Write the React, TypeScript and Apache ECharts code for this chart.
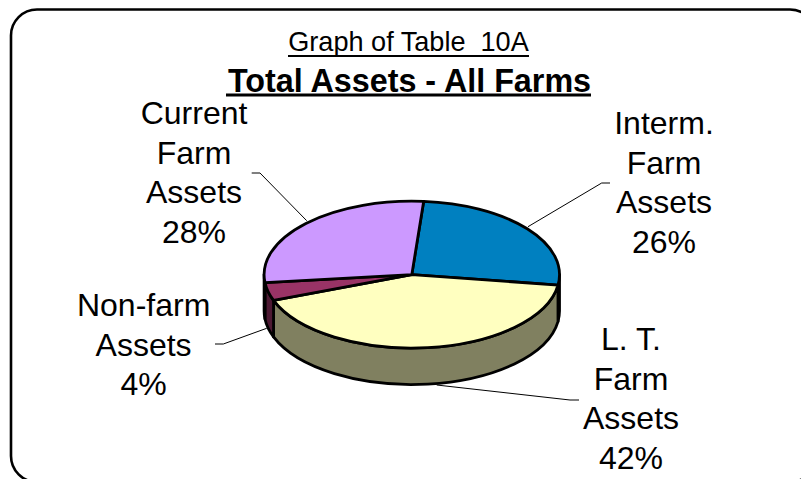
import React, { useEffect, useRef } from "react";
import * as echarts from "echarts";

const categories = ["Interm.\nFarm\nAssets", "L. T.\nFarm\nAssets", "Non-farm\nAssets", "Current\nFarm\nAssets"];
const values = [26, 42, 4, 28];
const topColors = ["#0080C0", "#FFFFC0", "#993366", "#CC99FF"];
const wallColors = ["#004060", "#808060", "#4D1933", "#664D80"];
const subtitleText = "Graph of Table  10A";
const titleText = "Total Assets - All Farms";

const FONT = '"Liberation Sans", Arial, sans-serif';
const PIE = { cx: 411.8, cy: 274.6, rx: 147.7, ry: 73.4, depth: 36.5, startDeg: 4.6 };
const LABEL_POS = [
  { x: 664, y: 182.3 },
  { x: 631, y: 398.6 },
  { x: 143.6, y: 344.6 },
  { x: 194, y: 172.3 },
];
const LEADERS = [
  [[528, 226.7], [601.7, 183], [610, 183]],
  [[436.7, 385], [570, 400], [579, 400]],
  [[266.7, 328.3], [223.3, 344], [215, 344]],
  [[306.7, 220.7], [260, 173], [251.7, 173]],
];

const pt = (deg: number, dy = 0) => {
  const t = (deg * Math.PI) / 180;
  return [PIE.cx + PIE.rx * Math.sin(t), PIE.cy - PIE.ry * Math.cos(t) + dy];
};
const arcFlags = (a: number, b: number, sweep: number) =>
  `A${PIE.rx} ${PIE.ry} 0 ${Math.abs(b - a) > 180 ? 1 : 0} ${sweep} `;

const renderItem = (params: any, api: any) => {
  const i = params.dataIndex;
  const total = values.reduce((s, v) => s + v, 0);
  const before = values.slice(0, i).reduce((s, v) => s + v, 0);
  const a = PIE.startDeg + (before / total) * 360;
  const b = a + (api.value(0) / total) * 360;
  const stroke = { stroke: "#000", lineWidth: 2.8, lineJoin: "round" };
  const [ax, ay] = pt(a);
  const [bx, by] = pt(b);
  const children: any[] = [
    {
      type: "path",
      z2: 2,
      shape: { pathData: `M${PIE.cx} ${PIE.cy} L${ax} ${ay} ${arcFlags(a, b, 1)}${bx} ${by} Z` },
      style: { fill: topColors[i], ...stroke },
    },
    {
      type: "polyline",
      z2: 0,
      shape: { points: LEADERS[i] },
      style: { fill: null, stroke: "#000", lineWidth: 1 },
    },
    {
      type: "text",
      z2: 3,
      x: LABEL_POS[i].x,
      y: LABEL_POS[i].y,
      style: {
        text: `${categories[i]}\n${api.value(0)}%`,
        fontFamily: FONT,
        fontSize: 32,
        lineHeight: 39.5,
        textAlign: "center",
        textVerticalAlign: "middle",
        fill: "#000",
      },
    },
  ];
  const wa = Math.max(a, 90);
  const wb = Math.min(b, 270);
  if (wb > wa) {
    const [p1x, p1y] = pt(wa);
    const [p2x, p2y] = pt(wb);
    const [q2x, q2y] = pt(wb, PIE.depth);
    const [q1x, q1y] = pt(wa, PIE.depth);
    children.push({
      type: "path",
      z2: 1,
      shape: {
        pathData: `M${p1x} ${p1y} ${arcFlags(wa, wb, 1)}${p2x} ${p2y} L${q2x} ${q2y} ${arcFlags(wa, wb, 0)}${q1x} ${q1y} Z`,
      },
      style: { fill: wallColors[i], ...stroke },
    });
  }
  return { type: "group", children };
};

export default function App() {
  const ref = useRef<HTMLDivElement>(null);
  useEffect(() => {
    const chart = echarts.init(ref.current!, null, { renderer: "svg" });
    chart.setOption({
      animation: false,
      backgroundColor: "#fff",
      title: [
        {
          text: subtitleText,
          left: 408.5,
          top: 41,
          textAlign: "center",
          textVerticalAlign: "middle",
          padding: 0,
          textStyle: { fontFamily: FONT, fontSize: 27.1, fontWeight: "normal", color: "#000" },
        },
        {
          text: titleText,
          left: 409.5,
          top: 81,
          textAlign: "center",
          textVerticalAlign: "middle",
          padding: 0,
          textStyle: { fontFamily: FONT, fontSize: 32.3, fontWeight: "bold", color: "#000" },
        },
      ],
      graphic: [
        {
          type: "rect",
          shape: { x: 11, y: 9.5, width: 805, height: 472.5, r: 26 },
          style: { fill: "none", stroke: "#000", lineWidth: 2.6 },
          z: 0,
        },
        { type: "rect", shape: { x: 288, y: 55, width: 241, height: 2 }, style: { fill: "#000" }, z: 1 },
        { type: "rect", shape: { x: 226, y: 93.5, width: 365, height: 3 }, style: { fill: "#000" }, z: 1 },
      ],
      series: [
        {
          type: "custom",
          coordinateSystem: "none",
          renderItem,
          data: values.map((v, i) => ({ value: [v], name: categories[i].replace(/\n/g, " ") })),
          z: 2,
        },
      ],
    });
    return () => chart.dispose();
  }, []);
  return <div ref={ref} style={{ position: "fixed", left: 0, top: 0, width: 801, height: 479 }} />;
}
